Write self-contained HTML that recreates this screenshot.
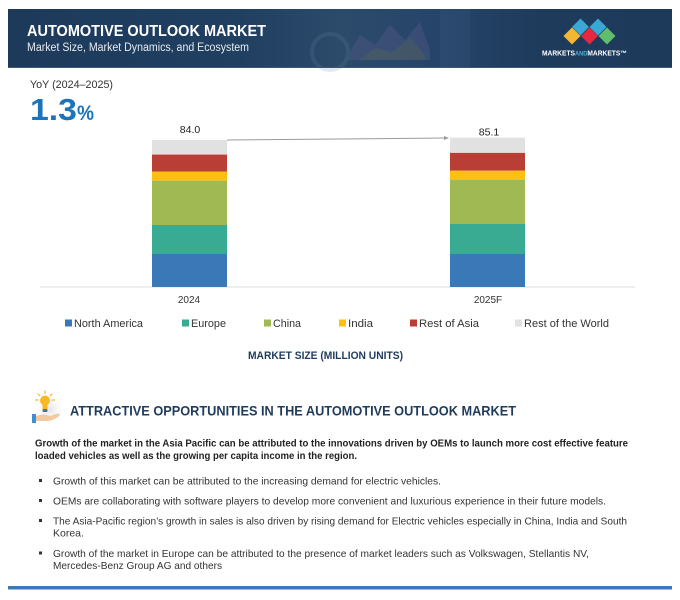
<!DOCTYPE html>
<html><head><meta charset="utf-8"><style>
html,body{margin:0;padding:0;background:#fff;}
svg{display:block;}
text{font-family:"Liberation Sans",Arial,sans-serif;}
</style></head><body>
<svg width="680" height="600" viewBox="0 0 680 600" xmlns="http://www.w3.org/2000/svg">
<defs>
<linearGradient id="bn" x1="0" x2="1" y1="0" y2="0">
<stop offset="0" stop-color="#1d3a5b"/>
<stop offset="0.35" stop-color="#203f61"/>
<stop offset="0.5" stop-color="#2c4b6b"/>
<stop offset="0.65" stop-color="#26446a"/>
<stop offset="0.8" stop-color="#1e3b5c"/>
<stop offset="1" stop-color="#1d3a5b"/>
</linearGradient>
<radialGradient id="sh" cx="0.5" cy="0.5" r="0.5">
<stop offset="0" stop-color="#e6e6e6"/>
<stop offset="1" stop-color="#ffffff" stop-opacity="0"/>
</radialGradient>
</defs>
<rect x="0" y="0" width="680" height="600" fill="#fff"/>
<!-- banner -->
<rect x="8" y="9" width="664" height="59" fill="url(#bn)"/>
<g opacity="0.18">
<polygon points="345,60 360,35 375,45 390,25 405,40 420,22 430,50 430,60" fill="#8a6fa8"/>
<polygon points="360,60 375,48 392,52 410,38 425,55 425,60" fill="#c0a060"/>
<circle cx="330" cy="52" r="18" fill="none" stroke="#6c8aa8" stroke-width="4"/>
<rect x="440" y="9" width="30" height="59" fill="#4a6888"/>
</g>
<rect x="8" y="67" width="664" height="1" fill="#3b5878"/>
<text x="27" y="36" font-size="15.5" font-weight="bold" fill="#fff" textLength="239" lengthAdjust="spacingAndGlyphs">AUTOMOTIVE OUTLOOK MARKET</text>
<text x="27" y="51" font-size="11.5" fill="#e6ebf1" textLength="222" lengthAdjust="spacingAndGlyphs">Market Size, Market Dynamics, and Ecosystem</text>
<!-- logo -->
<g>
<polygon points="572,27.5 580.5,36 572,44.5 563.5,36" fill="#f4b731"/>
<polygon points="580.5,18.5 589,27 580.5,35.5 572,27" fill="#3aa8d4"/>
<polygon points="589.5,27.5 598,36 589.5,44.5 581,36" fill="#e7283e"/>
<polygon points="598,18.5 606.5,27 598,35.5 589.5,27" fill="#3aa8d4"/>
<polygon points="607,27.5 615.5,36 607,44.5 598.5,36" fill="#5fbd6b"/>
</g>
<text x="542" y="55.5" font-size="7" font-weight="bold" fill="#fff" textLength="85" lengthAdjust="spacingAndGlyphs">MARKETS<tspan fill="#4fb3dc" font-size="6">AND</tspan>MARKETS™</text>
<!-- YoY -->
<text x="30" y="88" font-size="11" fill="#333" textLength="83" lengthAdjust="spacingAndGlyphs">YoY (2024–2025)</text>
<text x="30" y="120" font-size="31" font-weight="bold" fill="#1b74bc" textLength="47" lengthAdjust="spacingAndGlyphs">1.3</text>
<text x="77" y="120" font-size="21" font-weight="bold" fill="#1b74bc" textLength="17" lengthAdjust="spacingAndGlyphs">%</text>
<!-- baseline -->
<rect x="40" y="286.5" width="595" height="1" fill="#dcdcdc"/>
<!-- bar 1 -->
<rect x="152" y="140" width="75" height="14" fill="#e1e1e1"/>
<rect x="152" y="154.5" width="75" height="17.2" fill="#b83e36"/>
<rect x="152" y="171.7" width="75" height="9" fill="#fcbf12"/>
<rect x="152" y="180.7" width="75" height="44.3" fill="#a1b953"/>
<rect x="152" y="225" width="75" height="29" fill="#3aab93"/>
<rect x="152" y="254" width="75" height="33" fill="#3a78b8"/>
<!-- bar 2 -->
<rect x="450" y="137.7" width="75" height="14.6" fill="#e1e1e1"/>
<rect x="450" y="152.8" width="75" height="17.9" fill="#b83e36"/>
<rect x="450" y="170.7" width="75" height="9.3" fill="#fcbf12"/>
<rect x="450" y="180" width="75" height="44" fill="#a1b953"/>
<rect x="450" y="224" width="75" height="30" fill="#3aab93"/>
<rect x="450" y="254" width="75" height="33" fill="#3a78b8"/>
<!-- arrow -->
<line x1="227" y1="140" x2="445" y2="138" stroke="#9a9a9a" stroke-width="1"/>
<polygon points="449,138 444,136 444,140" fill="#9a9a9a"/>
<!-- value labels -->
<text x="190" y="133" font-size="10.5" fill="#222" text-anchor="middle">84.0</text>
<text x="489" y="135.5" font-size="10.5" fill="#222" text-anchor="middle">85.1</text>
<text x="189" y="303" font-size="10" fill="#333" text-anchor="middle">2024</text>
<text x="488" y="303" font-size="10" fill="#333" text-anchor="middle">2025F</text>
<!-- legend -->
<rect x="65" y="319.5" width="7" height="7" fill="#3a78b8"/>
<text x="74" y="327" font-size="11" fill="#333" textLength="69" lengthAdjust="spacingAndGlyphs">North America</text>
<rect x="182" y="319.5" width="7" height="7" fill="#3aab93"/>
<text x="191" y="327" font-size="11" fill="#333" textLength="35" lengthAdjust="spacingAndGlyphs">Europe</text>
<rect x="264" y="319.5" width="7" height="7" fill="#a1b953"/>
<text x="273" y="327" font-size="11" fill="#333" textLength="28" lengthAdjust="spacingAndGlyphs">China</text>
<rect x="339" y="319.5" width="7" height="7" fill="#fcbf12"/>
<text x="348" y="327" font-size="11" fill="#333" textLength="25" lengthAdjust="spacingAndGlyphs">India</text>
<rect x="410" y="319.5" width="7" height="7" fill="#b83e36"/>
<text x="419" y="327" font-size="11" fill="#333" textLength="60" lengthAdjust="spacingAndGlyphs">Rest of Asia</text>
<rect x="515" y="319.5" width="7" height="7" fill="#e1e1e1"/>
<text x="524" y="327" font-size="11" fill="#333" textLength="85" lengthAdjust="spacingAndGlyphs">Rest of the World</text>
<text x="248" y="359" font-size="11" font-weight="bold" fill="#1f3b5c" textLength="155" lengthAdjust="spacingAndGlyphs">MARKET SIZE (MILLION UNITS)</text>
<!-- icon -->
<circle cx="50" cy="410" r="17" fill="url(#sh)"/>
<g stroke="#f5b731" stroke-width="1.2" stroke-linecap="round">
<line x1="45" y1="391" x2="45" y2="393.5"/>
<line x1="38" y1="394" x2="39.8" y2="395.8"/>
<line x1="52" y1="394" x2="50.2" y2="395.8"/>
<line x1="35.5" y1="400" x2="38" y2="400"/>
<line x1="54.5" y1="400" x2="52" y2="400"/>
</g>
<circle cx="45" cy="400.5" r="5" fill="#f9b826"/>
<rect x="42.5" y="404" width="5" height="5" fill="#f9b826"/>
<rect x="42.5" y="409" width="5" height="3" rx="1" fill="#5a6f8c"/>
<path d="M36,416 Q44,413 50,416 L56,414 Q60,413 60,415 Q55,420 48,421 L36,421 Z" fill="#f4c8a0"/>
<rect x="32" y="414" width="4" height="9" fill="#3a8fd6"/>
<text x="70" y="415.5" font-size="14" font-weight="bold" fill="#1f3b5c" textLength="446" lengthAdjust="spacingAndGlyphs">ATTRACTIVE OPPORTUNITIES IN THE AUTOMOTIVE OUTLOOK MARKET</text>
<!-- paragraph -->
<text x="35" y="446.5" font-size="10.5" font-weight="bold" fill="#222" textLength="593" lengthAdjust="spacingAndGlyphs">Growth of the market in the Asia Pacific can be attributed to the innovations driven by OEMs to launch more cost effective feature</text>
<text x="35" y="459" font-size="10.5" font-weight="bold" fill="#222" textLength="322" lengthAdjust="spacingAndGlyphs">loaded vehicles as well as the growing per capita income in the region.</text>
<!-- bullets -->
<g fill="#333">
<rect x="39" y="479" width="3" height="3"/>
<rect x="39" y="499" width="3" height="3"/>
<rect x="39" y="519" width="3" height="3"/>
<rect x="39" y="551.5" width="3" height="3"/>
</g>
<g font-size="10.5" fill="#333">
<text x="53" y="484.5" textLength="388" lengthAdjust="spacingAndGlyphs">Growth of this market can be attributed to the increasing demand for electric vehicles.</text>
<text x="53" y="504.5" textLength="553" lengthAdjust="spacingAndGlyphs">OEMs are collaborating with software players to develop more convenient and luxurious experience in their future models.</text>
<text x="53" y="524.5" textLength="574" lengthAdjust="spacingAndGlyphs">The Asia-Pacific region’s growth in sales is also driven by rising demand for Electric vehicles especially in China, India and South</text>
<text x="53" y="536.5">Korea.</text>
<text x="53" y="557" textLength="536" lengthAdjust="spacingAndGlyphs">Growth of the market in Europe can be attributed to the presence of market leaders such as Volkswagen, Stellantis NV,</text>
<text x="53" y="569" textLength="169" lengthAdjust="spacingAndGlyphs">Mercedes-Benz Group AG and others</text>
</g>
<rect x="8" y="586" width="664" height="3.5" fill="#3a78b8"/>
</svg>
</body></html>
